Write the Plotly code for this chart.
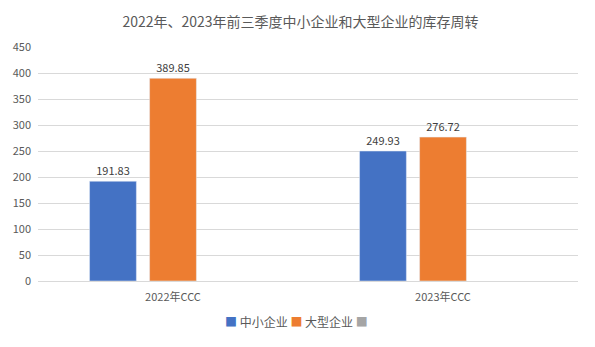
import plotly.graph_objects as go

categories = ["2022年CCC", "2023年CCC"]
series_names = ["中小企业", "大型企业", ""]
series_colors = ["#4472C4", "#ED7D31", "#A5A5A5"]
sme_values = [191.83, 249.93]
large_values = [389.85, 276.72]
empty_values = [None, None]

FONT = "Noto Sans CJK SC, Microsoft YaHei, sans-serif"

fig = go.Figure()
for name, color, values in zip(series_names, series_colors,
                               [sme_values, large_values, empty_values]):
    labels = [f"{v:.2f}" if v is not None else "" for v in values]
    fig.add_trace(go.Bar(
        x=categories, y=values, name=name, marker_color=color,
        text=labels, textposition="outside",
        textfont=dict(size=11, color="#404040"), cliponaxis=False,
        showlegend=False,
    ))

# compact legend: small colour squares followed by the series names
legend_html = " ".join(
    f"<span style='color:{c}'>■</span>" + (f" {n}" if n else "")
    for n, c in zip(series_names, series_colors)
)
fig.add_annotation(
    text=legend_html, xref="paper", yref="paper",
    x=0.478, y=-0.175, xanchor="center", yanchor="middle", showarrow=False,
    font=dict(size=12, color="#595959"),
)

fig.update_layout(
    width=595, height=347,
    margin=dict(l=38, r=17, t=47, b=66, autoexpand=False),
    paper_bgcolor="white", plot_bgcolor="white",
    font=dict(family=FONT, size=11, color="#595959"),
    title=dict(text="2022年、2023年前三季度中小企业和大型企业的库存周转",
               x=0.505, xanchor="center", y=0.935, yanchor="middle",
               font=dict(size=14, color="#595959")),
    barmode="group", bargap=0.333, bargroupgap=0.22,
    showlegend=False,
)
fig.update_yaxes(range=[0, 450], dtick=50, showgrid=True, gridcolor="#D9D9D9",
                 gridwidth=1, zeroline=False, ticks="", showline=False,
                 tickfont=dict(size=11, color="#595959"), ticklabelstandoff=6)
fig.update_xaxes(showline=True, linecolor="#D9D9D9", ticks="",
                 tickfont=dict(size=11, color="#595959"), ticklabelstandoff=6)

fig.write_html("out.html")
